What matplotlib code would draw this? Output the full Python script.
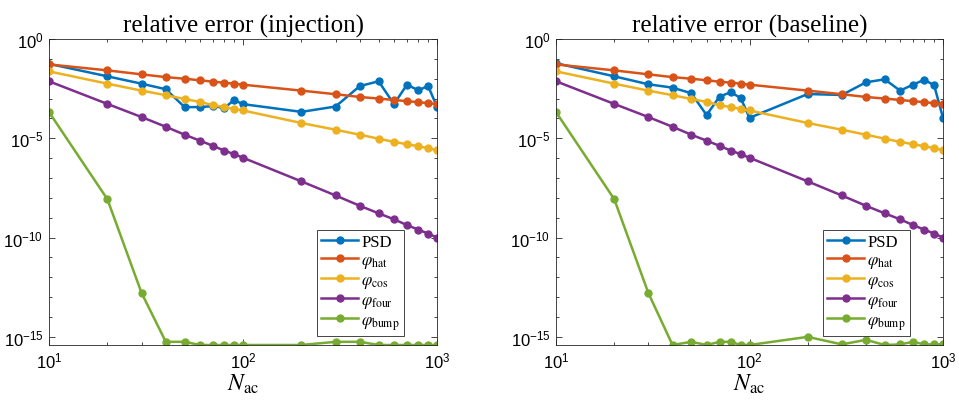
import numpy as np
import matplotlib
matplotlib.use('Agg')
import matplotlib.pyplot as plt

plt.rcParams['font.family'] = ['Liberation Sans', 'DejaVu Sans']
plt.rcParams['mathtext.fontset'] = 'stix'

N = [10, 20, 30, 40, 50, 60, 70, 80, 90, 100,
     200, 300, 400, 500, 600, 700, 800, 900, 1000]

# log10 of the relative error
psd_injection = [-1.25, -1.88, -2.25, -2.53, -3.43, -3.43, -3.38, -3.47, -3.08, -3.28,
                 -3.67, -3.40, -2.37, -2.13, -3.28, -2.30, -2.58, -2.37, -3.42]
psd_baseline = [-1.22, -1.88, -2.28, -2.45, -2.73, -3.83, -2.90, -2.68, -2.97, -3.97,
                -2.77, -2.82, -2.18, -2.03, -2.60, -2.30, -2.05, -2.33, -3.97]
hat = [-1.28, -1.58, -1.78, -1.92, -2.00, -2.08, -2.15, -2.20, -2.25, -2.30,
       -2.60, -2.78, -2.92, -3.00, -3.07, -3.13, -3.18, -3.23, -3.28]
cos_ = [-1.63, -2.25, -2.60, -2.83, -3.02, -3.17, -3.33, -3.43, -3.52, -3.60,
        -4.23, -4.57, -4.82, -5.02, -5.18, -5.30, -5.40, -5.50, -5.60]
four = [-2.13, -3.27, -3.93, -4.42, -4.82, -5.12, -5.38, -5.62, -5.80, -5.98,
        -7.17, -7.88, -8.40, -8.78, -9.08, -9.37, -9.60, -9.80, -10.00]
bump_injection = [-3.68, -8.07, -12.79, -15.25, -15.25, -15.41, -15.41, -15.41, -15.41, -15.41,
                  -15.41, -15.25, -15.25, -15.41, -15.41, -15.41, -15.41, -15.41, -15.41]
bump_baseline = [-3.68, -8.07, -12.79, -15.41, -15.25, -15.41, -15.25, -15.25, -15.41, -15.41,
                 -15.00, -15.38, -15.15, -15.41, -15.38, -15.25, -15.38, -15.38, -15.38]

labels = ['PSD', r'$\varphi_\mathrm{hat}$', r'$\varphi_\mathrm{cos}$',
          r'$\varphi_\mathrm{four}$', r'$\varphi_\mathrm{bump}$']
colors = ['#0072bd', '#d95319', '#edb120', '#7e2f8e', '#77ac30']
titles = ['relative error (injection)', 'relative error (baseline)']

ytick_exp = [0, -5, -10, -15]
xtick_exp = [1, 2, 3]


def draw(ax, psd, bump, title):
    series = [psd, hat, cos_, four, bump]
    for vals, lab, c in zip(series, labels, colors):
        ax.plot(N, 10.0 ** np.array(vals), '-o', color=c, lw=1.8, ms=5,
                label=lab)
    ax.set_xscale('log')
    ax.set_yscale('log')
    ax.set_xlim(10, 1000)
    ax.set_ylim(10 ** -15.41, 1)
    ax.set_xticks([10.0 ** e for e in xtick_exp])
    ax.set_xticklabels([r'$\mathregular{10^{%d}}$' % e for e in xtick_exp])
    ax.set_xticks([k * 10.0 ** e for e in (1, 2) for k in range(2, 10)], minor=True)
    ax.set_yticks([10.0 ** e for e in ytick_exp])
    ax.set_yticklabels([r'$\mathregular{10^{%d}}$' % e for e in ytick_exp])
    ax.set_yticks([10.0 ** e for e in range(-15, 1)], minor=True)
    ax.set_yticklabels([], minor=True)
    ax.set_xticklabels([], minor=True)
    ax.tick_params(which='both', direction='in', top=True, right=True,
                   labelsize=12, color='#262626', width=0.6, pad=4)
    ax.tick_params(which='major', length=4)
    ax.tick_params(which='minor', length=2.5)
    for s in ax.spines.values():
        s.set_color('#262626')
        s.set_linewidth(0.6)
    ax.set_title(title, fontfamily='Liberation Serif', fontsize=18, pad=5)
    ax.set_xlabel(r'$N_\mathrm{ac}$', fontsize=17, labelpad=1)
    leg = ax.legend(loc='lower right', bbox_to_anchor=(0.915, 0.03),
                    prop={'family': 'Liberation Serif', 'size': 12},
                    fancybox=False, framealpha=1, edgecolor='#262626',
                    handlelength=2.2, borderpad=0.25, labelspacing=0.12,
                    handletextpad=0.2, borderaxespad=0)
    leg.get_frame().set_linewidth(0.6)


fig = plt.figure(figsize=(9.59, 4.02), dpi=100)
ax1 = fig.add_axes([0.0511, 0.1393, 0.4046, 0.7612])
ax2 = fig.add_axes([0.5798, 0.1393, 0.4035, 0.7612])
draw(ax1, psd_injection, bump_injection, titles[0])
draw(ax2, psd_baseline, bump_baseline, titles[1])

fig.savefig('out.png', dpi=100)
